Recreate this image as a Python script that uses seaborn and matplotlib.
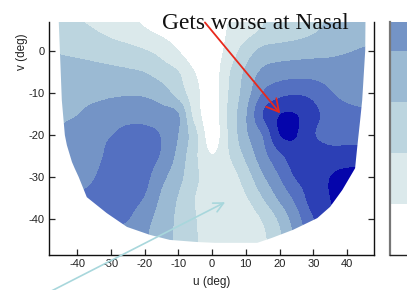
import numpy as np
import matplotlib
matplotlib.use("Agg")
import matplotlib.pyplot as plt
from matplotlib.colors import ListedColormap, BoundaryNorm
from matplotlib.patches import Polygon
import seaborn as sns

# ==========================================
# Data
# ==========================================

# grid of the sensitivity map (deg)
u_deg = [-50, -45, -40, -35, -30, -25, -20, -15, -10, -5, 0,
         5, 10, 15, 20, 25, 30, 35, 40, 45, 50]
v_deg = [10, 5, 0, -5, -10, -15, -20, -25, -30, -35, -40, -45, -50]

# contour level at each grid point (0 = white ... 7 = darkest), one row per v
loss_rows = [
    [2.3, 2.0, 1.75, 1.5, 1.25, 1.02, 0.8, 0.6, 0.4, 0.2, 0.2, 1.0, 1.5, 2.0, 2.25, 2.5, 2.8, 3.1, 3.3, 3.5, 3.7],
    [2.8, 2.6, 2.4, 2.05, 1.75, 1.45, 1.1, 0.8, 0.5, 0.3, 0.3, 1.1, 1.6, 2.1, 2.35, 2.6, 2.9, 3.2, 3.4, 3.6, 3.8],
    [3.1, 2.92, 2.8, 2.65, 2.5, 2.35, 2.1, 1.7, 1.05, 0.4, 0.4, 1.4, 2.5, 3.3, 3.5, 3.6, 3.7, 3.8, 3.95, 4.1, 4.2],
    [3.7, 3.55, 3.45, 3.35, 3.25, 3.15, 3.0, 2.55, 2.05, 1.0, 0.5, 1.9, 3.2, 4.2, 4.5, 4.6, 4.6, 4.5, 4.45, 4.4, 4.4],
    [3.9, 3.8, 3.75, 3.75, 3.85, 3.9, 3.85, 3.5, 2.6, 1.35, 0.5, 2.05, 3.5, 5.05, 5.7, 5.9, 5.7, 5.1, 4.7, 4.5, 4.4],
    [3.5, 3.7, 3.97, 4.3, 4.5, 4.6, 4.6, 4.4, 4.05, 1.6, 0.5, 2.2, 3.9, 6.0, 6.97, 7.0, 6.3, 5.6, 5.35, 5.2, 5.1],
    [4.0, 4.3, 4.6, 4.8, 4.97, 5.3, 5.3, 4.95, 4.0, 2.3, 0.5, 2.1, 3.8, 5.05, 6.97, 7.02, 6.1, 5.6, 5.6, 5.5, 5.4],
    [3.8, 4.2, 4.4, 4.75, 5.2, 5.4, 5.4, 4.9, 3.7, 2.2, 1.05, 1.95, 3.2, 4.6, 5.75, 6.6, 6.6, 6.5, 6.5, 6.6, 6.7],
    [3.5, 3.8, 4.1, 4.95, 5.4, 5.5, 5.3, 4.3, 3.35, 2.2, 1.6, 1.5, 2.5, 3.85, 5.0, 6.1, 6.5, 7.0, 7.3, 7.3, 7.3],
    [5.0, 5.2, 5.3, 5.45, 5.5, 5.4, 4.95, 3.85, 2.95, 2.0, 1.6, 1.4, 1.9, 3.0, 4.2, 5.3, 6.5, 7.0, 7.4, 7.5, 7.5],
    [5.4, 5.4, 5.4, 5.3, 5.15, 5.05, 4.35, 3.6, 2.8, 2.05, 1.6, 1.35, 1.45, 2.1, 3.2, 4.6, 5.95, 6.8, 7.2, 7.3, 7.3],
    [5.4, 5.3, 5.2, 5.0, 4.8, 4.5, 4.1, 3.5, 2.8, 2.1, 1.6, 1.35, 1.4, 1.8, 2.8, 4.2, 5.5, 6.5, 7.0, 7.2, 7.2],
    [5.4, 5.3, 5.2, 5.0, 4.8, 4.5, 4.1, 3.5, 2.8, 2.1, 1.6, 1.35, 1.4, 1.8, 2.8, 4.2, 5.5, 6.5, 7.0, 7.2, 7.2],
]

# border of the measured visual field
edge_u = [-45.5, -45.4, -44.5, -43.6, -43.0, -41.5, -40.7, -39.5, -37.1, -31.2,
          -25.2, -18.4, -12.5, -4.5, 0.9, 13.4, 17.8, 24.0, 31.2, 35.0,
          38.6, 42.4, 43.0, 43.9, 44.5, 45.4, 45.5]
edge_v = [10, 6.9, -11.7, -20, -22.4, -26.4, -27.9, -30, -34.8, -38.6,
          -41.9, -43.8, -45, -45.5, -45.7, -45.7, -44.5, -42.6, -39.8, -37.1,
          -33.1, -27.9, -23.1, -16.4, -11.7, 0.2, 10]

band_levels = [0, 1, 2, 3, 4, 5, 6, 7, 8]
band_colors = ['#ffffff', '#dbe9eb', '#bcd5df', '#9bbad3', '#7494c6',
               '#5470c1', '#2c3fb5', '#0505ab']

x_ticks = [-40, -30, -20, -10, 0, 10, 20, 30, 40]
y_ticks = [-40, -30, -20, -10, 0]

# annotation arrows (data coords)
red_tail, red_tip = (-2.1, 6.9), (20.2, -14.8)
cyan_tail, cyan_tip = (-48.1, -57.4), (3.9, -36.0)

# ==========================================
# Plot
# ==========================================

sns.set_style("ticks")
plt.rcParams['font.family'] = ['Liberation Sans Narrow', 'Liberation Sans', 'DejaVu Sans']
plt.rcParams['axes.unicode_minus'] = False

fig = plt.figure(figsize=(4.07, 2.90), dpi=100)
ax = fig.add_axes([49/407, 35/290, 325/407, 233/290])
cax = fig.add_axes([390/407, 35/290, 22/407, 233/290])

cmap = ListedColormap(band_colors)
norm = BoundaryNorm(band_levels, cmap.N)
half = (u_deg[1] - u_deg[0]) / 2

# filled bands: smooth resampling of the level grid, then binned into colours
im = ax.imshow(np.array(loss_rows), cmap=cmap, norm=norm,
               interpolation='catrom', interpolation_stage='data',
               origin='upper', aspect='auto',
               extent=[u_deg[0] - half, u_deg[-1] + half,
                       v_deg[-1] - half, v_deg[0] + half])
field = Polygon(np.column_stack([edge_u, edge_v]), closed=True,
                facecolor='none', edgecolor='none', transform=ax.transData)
ax.add_patch(field)
im.set_clip_path(field)

ax.set_xlim(-48.3, 48)
ax.set_ylim(-48.6, 7)
ax.set_xticks(x_ticks)
ax.set_yticks(y_ticks)
ax.tick_params(direction='in', length=4, width=0.9, right=True, top=False,
               labelsize=8, pad=3, labelcolor='#222')
sns.despine(ax=ax, top=True, right=False)
for side in ['left', 'bottom', 'right']:
    ax.spines[side].set_linewidth(1.0)
    ax.spines[side].set_color('#111')

ax.set_xlabel('u (deg)', fontsize=8.5, color='#222')
ax.xaxis.label.set_va('center')
ax.xaxis.set_label_coords(0.5, -(282 - 255) / 233)
ax.set_ylabel('v (deg)', fontsize=8.5, color='#222')
ax.yaxis.label.set_va('center')
ax.yaxis.set_label_coords((22 - 49) / 325, (255 - 52) / 233)

# colorbar, only its lower part shows in the frame
cbar = fig.colorbar(im, cax=cax)
cbar.outline.set_visible(False)
cbar.set_ticks(band_levels[1:5])
cax.set_ylim(0, 233 / 51)
cax.minorticks_off()
cax.tick_params(axis='y', direction='in', left=True, right=True,
                labelleft=False, labelright=False, length=3, width=0.9,
                color='#333')
cax.spines['left'].set_visible(True)
cax.spines['left'].set_color('#777')
cax.spines['left'].set_linewidth(1.6)
cax.spines['bottom'].set_visible(True)
cax.spines['bottom'].set_color('#222')
cax.spines['bottom'].set_linewidth(1.0)

# annotations
fig.text(162/407, 1 - 29/290, 'Gets worse at Nasal', family='Liberation Serif',
         fontsize=16.8, va='baseline', ha='left', color='#111')
ax.annotate('', xy=red_tip, xytext=red_tail, annotation_clip=False,
            arrowprops=dict(arrowstyle='->,head_length=0.55,head_width=0.3',
                            color='#e8291c', lw=1.3, shrinkA=0, shrinkB=0,
                            mutation_scale=16))
ax.annotate('', xy=cyan_tip, xytext=cyan_tail, annotation_clip=False,
            arrowprops=dict(arrowstyle='->,head_length=0.5,head_width=0.25',
                            color='#a8d7dc', lw=1.2, shrinkA=0, shrinkB=0,
                            mutation_scale=14))

fig.savefig('out.png', dpi=100)
